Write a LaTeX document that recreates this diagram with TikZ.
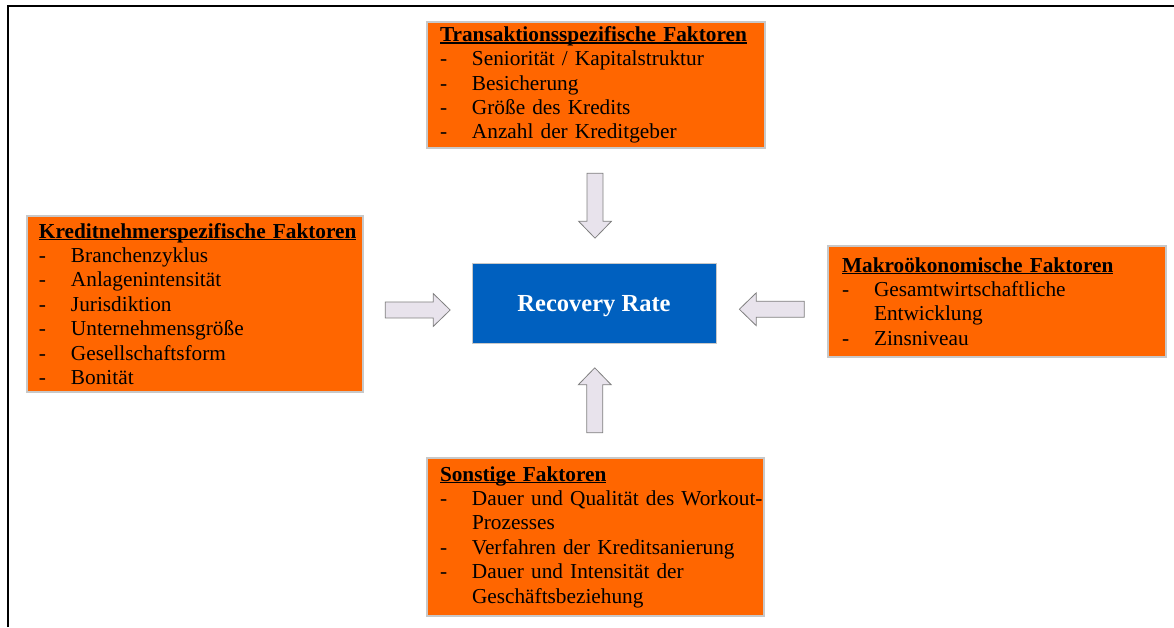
\documentclass[tikz,border=0pt]{standalone}
\usepackage{fontspec}
\setmainfont{Liberation Serif}
\usetikzlibrary{calc}
\definecolor{boxorange}{RGB}{255,102,0}
\definecolor{boxgray}{RGB}{200,200,200}
\definecolor{rrblue}{RGB}{0,96,191}
\definecolor{arrfill}{RGB}{232,227,236}
\definecolor{arrdraw}{RGB}{128,128,128}
\newcommand\hdline[1]{\setbox0\hbox{\bfseries #1}\rlap{\rule[-2.2pt]{\wd0}{1.3pt}}\box0}
\newcommand\itemline[1]{\makebox[32pt][l]{-}\mbox{#1}}
\newcommand\contline[1]{\hspace*{32pt}\mbox{#1}}
\begin{document}
\begin{tikzpicture}[x=1pt,y=1pt,
  factor/.style={draw=boxgray, line width=1.5pt, fill=boxorange, inner xsep=0pt, inner ysep=0pt,
    align=left, font=\fontsize{21.3}{24.4}\selectfont, anchor=center},
  barrow/.pic={\draw[draw=arrdraw, fill=arrfill, line width=0.8pt, line join=miter]
    (-32.5,-8) -- (15.5,-8) -- (15.5,-16.5) -- (32.5,0) -- (15.5,16.5) -- (15.5,8) -- (-32.5,8) -- cycle;}]
\useasboundingbox (0,0) rectangle (1174,627);
\draw[line width=1.5pt, line join=miter] (8,0) -- (8,621) -- (1174,621);

\node[factor, text width=338pt, minimum height=126pt] (tbox) at (596,542)
  {\leftskip=13pt\relax
   \hdline{Transaktionsspezifische Faktoren}\\
   \itemline{Seniorität / Kapitalstruktur}\\
   \itemline{Besicherung}\\
   \itemline{Größe des Kredits}\\
   \itemline{Anzahl der Kreditgeber}\par};

\node[factor, text width=336pt, minimum height=176pt] (lbox) at (195,323)
  {\leftskip=12pt\relax
   \hdline{Kreditnehmerspezifische Faktoren}\\
   \itemline{Branchenzyklus}\\
   \itemline{Anlagenintensität}\\
   \itemline{Jurisdiktion}\\
   \itemline{Unternehmensgröße}\\
   \itemline{Gesellschaftsform}\\
   \itemline{Bonität}\par};

\node[factor, text width=338pt, minimum height=111pt] (mbox) at (997,325.5)
  {\leftskip=14pt\relax
   \hdline{Makroökonomische Faktoren}\\
   \itemline{Gesamtwirtschaftliche}\\
   \contline{Entwicklung}\\
   \itemline{Zinsniveau}\par};

\node[factor, text width=337pt, minimum height=158pt] (sbox) at (595.5,90)
  {\leftskip=13pt\relax
   \hdline{Sonstige Faktoren}\\
   \itemline{Dauer und Qualität des Workout-}\\
   \contline{Prozesses}\\
   \itemline{Verfahren der Kreditsanierung}\\
   \itemline{Dauer und Intensität der}\\
   \contline{Geschäftsbeziehung}\par};

\node[fill=rrblue, draw=boxgray, line width=0.8pt, minimum width=244pt, minimum height=80pt,
  inner sep=0pt, text=white, font=\fontsize{24.5}{29}\selectfont\bfseries] (rr) at (594,324)
  {\raisebox{-9pt}[0pt][0pt]{Recovery Rate}};

\pic[rotate=-90] at ($(tbox.south)!0.5!(rr.north)$) {barrow};
\pic[rotate=90] at ($(sbox.north)!0.5!(rr.south)$) {barrow};
\pic at ($(lbox.east)!0.5!(rr.west)+(0,-6.5)$) {barrow};
\pic[rotate=180] at ($(mbox.west)!0.5!(rr.east)+(0,-7)$) {barrow};
\end{tikzpicture}
\end{document}
